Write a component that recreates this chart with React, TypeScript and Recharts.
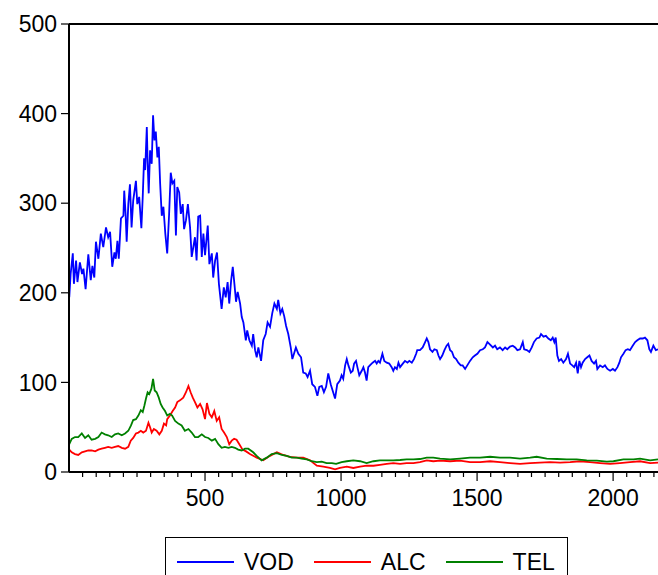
import React from "react";
import { LineChart, Line, XAxis, YAxis, ReferenceLine } from "recharts";

// Daily closing prices, indexed by observation number.
const vodObs = [
  1, 6, 14, 18, 26, 31, 40, 48, 53, 61,
  71, 80, 86, 93, 99, 108, 117, 126, 136, 144,
  151, 159, 167, 172, 178, 183, 191, 200, 203, 208,
  212, 218, 224, 230, 236, 246, 251, 258, 266, 271,
  276, 280, 286, 289, 293, 298, 304, 309, 314, 319,
  325, 330, 335, 341, 347, 354, 361, 368, 374, 380,
  387, 393, 398, 405, 411, 418, 423, 430, 437, 445,
  451, 457,
  463, 469, 475, 482, 488, 494, 500, 510, 516, 525,
  530, 537, 544, 551, 561, 569, 576, 583, 589, 596,
  602, 608, 614, 620, 629, 635, 641, 650, 655, 663,
  672, 677, 684, 690, 696, 706, 714, 723, 730, 739,
  747, 755, 764, 769, 777, 784, 791, 798, 806, 815,
  821, 827, 834, 843, 853, 861, 870, 877, 886, 894,
  904, 913, 920, 929, 937, 945, 953, 962, 969, 978,
  986, 996, 1002, 1008, 1015, 1021, 1027, 1036, 1043, 1048,
  1055, 1060, 1067, 1076, 1082, 1088, 1094, 1100, 1106, 1116,
  1125, 1131, 1137, 1143, 1152, 1159, 1168, 1177, 1186, 1192,
  1198, 1205, 1211, 1217, 1227, 1235, 1244, 1251, 1260, 1268,
  1276, 1280, 1290, 1300, 1309, 1315, 1321, 1327, 1336, 1343,
  1352, 1358, 1364, 1372, 1380, 1388, 1394, 1401, 1408, 1415,
  1423, 1431, 1440, 1447, 1456, 1464, 1474, 1484, 1492, 1501,
  1511, 1521, 1529, 1538, 1545,
  1558, 1566, 1574, 1584, 1594, 1603, 1611, 1621, 1631, 1640,
  1648, 1658, 1668, 1673, 1683, 1692, 1701, 1709, 1719, 1729,
  1735, 1744, 1753, 1762, 1771, 1778, 1784, 1789, 1795, 1801,
  1809, 1817, 1827, 1834, 1842, 1850, 1857, 1864, 1870, 1876,
  1882, 1888, 1897, 1905, 1913, 1921, 1930, 1937, 1942, 1952,
  1962, 1970, 1979, 1989, 1999, 2007, 2016, 2023, 2029, 2038,
  2046, 2054, 2062, 2072, 2081, 2089, 2099, 2109, 2117, 2126,
  2133, 2139, 2148, 2157, 2165,
];
const vodClose = [
  195, 221, 244, 210, 236, 212, 234, 221, 227, 204,
  243, 214, 230, 217, 257, 238, 266, 251, 273, 262,
  268, 229, 245, 238, 258, 238, 283, 286, 314, 288,
  257, 299, 321, 273, 303, 325, 299, 307, 272, 307,
  350, 337, 385, 346, 311, 359, 344, 398, 370, 380,
  351, 363, 322, 286, 296, 266, 244, 288, 334, 322,
  325, 264, 318, 312, 288, 299, 271, 281, 299, 273,
  240, 251,
  262, 236, 285, 286, 240, 266, 242, 275, 232, 244,
  217, 236, 245, 210, 182, 206, 195, 212, 188, 214,
  229, 210, 190, 201, 188, 173, 167, 147, 158, 147,
  141, 154, 136, 128, 139, 124, 147, 154, 167, 162,
  177, 188, 182, 192, 177, 182, 174, 163, 154, 139,
  126, 132, 139, 132, 128, 111, 110, 106, 113, 98,
  95, 85, 95, 96, 89, 95, 110, 98, 91, 82,
  98, 102, 108, 104, 119, 126, 119, 111, 113, 121,
  124, 117, 108, 113, 117, 111, 102, 117, 119, 122,
  124, 121, 124, 122, 132, 124, 122, 121, 117, 113,
  117, 115, 122, 117, 121, 124, 122, 124, 122, 126,
  132, 136, 136, 139, 145, 149, 145, 137, 134, 137,
  136, 130, 126, 130, 136, 141, 143, 136, 134, 128,
  126, 122, 119, 119, 115, 119, 124, 128, 130, 132,
  136, 137, 139, 145, 143,
  139, 141, 137, 139, 136, 139, 137, 140, 141, 139,
  136, 137, 145, 137, 136, 134, 139, 145, 149, 150,
  154, 151, 152, 149, 147, 150, 145, 150, 130, 124,
  126, 122, 126, 132, 121, 119, 117, 122, 110, 124,
  117, 122, 126, 128, 130, 124, 121, 124, 115, 119,
  117, 119, 115, 113, 115, 113, 117, 122, 128, 132,
  136, 137, 136, 141, 145, 147, 149, 149, 150, 147,
  137, 134, 141, 136, 137,
];

const alcObs = [
  1, 10, 22, 34, 47, 59, 71, 83, 96, 108,
  120, 132, 144, 157, 169, 181, 194, 206, 218, 227,
  236, 246, 255, 264, 273, 283, 292, 298, 304, 312,
  322, 332, 341, 349, 357, 361, 371, 381, 390, 398,
  408, 420, 430, 439, 447, 455, 463, 472, 482, 491,
  500, 507, 516, 525, 534, 543, 552, 561, 570, 580,
  589, 598, 607, 616, 626, 638, 651, 665, 690, 714,
  739, 764, 788, 812, 837, 861, 886, 911, 935, 959,
  978, 996, 1021, 1045, 1070, 1094, 1119, 1143, 1168, 1192,
  1217, 1241, 1266, 1290, 1315, 1339, 1364, 1401, 1437, 1474,
  1511, 1548, 1584, 1621, 1658, 1695, 1731, 1768, 1805, 1842,
  1878, 1915, 1952, 1989, 2025, 2062, 2099, 2136, 2165,
];
const alcClose = [
  25, 22, 20, 19, 22, 23, 24, 24, 23, 25,
  26, 27, 28, 27, 28, 29, 27, 26, 28, 35,
  38, 43, 44, 46, 44, 46, 55, 50, 44, 48,
  46, 42, 46, 54, 52, 59, 63, 68, 72, 78,
  80, 83, 89, 96, 89, 83, 78, 72, 76, 70,
  59, 77, 65, 61, 68, 57, 61, 48, 44, 39,
  31, 35, 37, 36, 31, 25, 23, 20, 16, 13,
  18, 22, 19, 17, 16, 16, 13, 7, 6, 4.5,
  3, 4.5, 6, 4.5, 6, 7, 7, 8, 9, 10,
  9, 10, 10, 11, 13, 12, 12.6, 12, 12.6, 11,
  11, 12, 11, 10, 9, 10, 10.4, 11, 10.4, 11,
  12, 11, 10, 9, 10, 11, 12, 10, 10.4,
];

const telObs = [
  1, 10, 22, 34, 47, 59, 71, 83, 96, 108,
  120, 132, 144, 157, 169, 181, 194, 206, 218, 228,
  236, 246, 255, 264, 271, 277, 283, 289, 295, 303,
  309, 315, 322, 330, 337, 344, 353, 361, 371, 379,
  390, 402, 414, 426, 439, 451, 463, 475, 488, 500,
  512, 525, 537, 549, 561, 573, 586, 598, 610, 622,
  635, 647, 659, 677, 690, 708, 727, 745, 764, 782,
  800, 819, 837, 855, 874, 892, 911, 929, 947, 966,
  982, 1002, 1021, 1045, 1070, 1094, 1119, 1143, 1168, 1192,
  1217, 1241, 1266, 1290, 1315, 1339, 1364, 1401, 1437, 1474,
  1511, 1548, 1584, 1621, 1658, 1695, 1719, 1756, 1793, 1830,
  1866, 1903, 1940, 1977, 2001, 2038, 2075, 2099, 2136, 2165,
];
const telClose = [
  31, 37, 39, 39, 43, 38, 41, 36, 37, 39,
  44, 42, 41, 39, 42, 43, 41, 43, 46, 52,
  58, 59, 63, 69, 67, 74, 82, 89, 87, 93,
  104, 91, 89, 83, 76, 72, 68, 63, 65, 63,
  57, 54, 52, 46, 48, 44, 39, 39, 42, 39,
  38, 35, 37, 31, 27, 28, 27, 28, 27, 25,
  24, 26, 26, 22, 18, 13, 16, 20, 21, 19,
  18, 16, 16, 15, 14, 12, 11, 11.5, 10, 10,
  9, 11, 12, 13, 12, 10, 12, 13, 13, 13,
  13.4, 14, 14, 14.5, 16, 16, 15, 14, 15, 16,
  16, 17, 16, 16, 15, 16, 17, 15, 14.5, 14,
  14, 13, 12.6, 11.5, 12, 14, 14, 15, 13, 14,
];

const yTicks = [0, 100, 200, 300, 400, 500];
const xLabelTicks = [500, 1000, 1500, 2000];

const series = [
  { key: "VOD", color: "#0000ff", obs: vodObs, close: vodClose },
  { key: "ALC", color: "#ff0000", obs: alcObs, close: alcClose },
  { key: "TEL", color: "#008000", obs: telObs, close: telClose },
];

const X_MAX = 2165;
const minorStep = 50;
const xTicks: number[] = [];
for (let t = minorStep; t <= X_MAX; t += minorStep) xTicks.push(t);

const font = '"Liberation Sans", Arial, sans-serif';

function ObsTick(props: any) {
  const { x, y, payload } = props;
  const v = payload.value as number;
  const major = xLabelTicks.includes(v);
  return (
    <g>
      <line x1={x} x2={x} y1={y} y2={y + (major ? 9 : 5)} stroke="#000" strokeWidth={1.2} />
      {major ? (
        <text x={x} y={y + 34} textAnchor="middle" fontSize={23} fill="#000" fontFamily={font}>
          {v}
        </text>
      ) : null}
    </g>
  );
}

function LegendBox() {
  return (
    <div
      style={{
        position: "absolute",
        left: 165,
        top: 537,
        width: 403,
        height: 50,
        border: "1px solid #000",
        display: "flex",
        alignItems: "center",
        paddingLeft: 11,
        boxSizing: "border-box",
        fontFamily: font,
        fontSize: 23,
        color: "#000",
      }}
    >
      {series.map((s) => (
        <div key={s.key} style={{ display: "flex", alignItems: "center", marginRight: 20 }}>
          <div style={{ width: 57, height: 2, background: s.color, marginRight: 10 }} />
          <span>{s.key}</span>
        </div>
      ))}
    </div>
  );
}

export default function App() {
  const seriesData = series.map((s) => ({
    ...s,
    rows: s.obs.map((t, i) => ({ obs: t, [s.key]: s.close[i] })),
  }));

  return (
    <div
      style={{
        position: "absolute",
        left: 0,
        top: 0,
        width: 658,
        height: 575,
        overflow: "hidden",
        background: "#fff",
        fontFamily: font,
      }}
    >
      <LineChart width={658} height={575} margin={{ top: 24, right: 0, left: 8, bottom: 73 }}>
        <XAxis
          type="number"
          dataKey="obs"
          domain={[0, X_MAX]}
          ticks={xTicks}
          interval={0}
          allowDataOverflow
          height={30}
          tickLine={false}
          tickSize={0}
          tickMargin={0}
          tick={<ObsTick />}
          axisLine={{ stroke: "#000", strokeWidth: 2 }}
        />
        <YAxis
          type="number"
          domain={[0, 500]}
          ticks={yTicks}
          interval={0}
          width={61}
          tickSize={8}
          tickMargin={4}
          tick={{ fill: "#000", fontSize: 23, fontFamily: font }}
          tickLine={{ stroke: "#000", strokeWidth: 1.2 }}
          axisLine={{ stroke: "#000", strokeWidth: 2 }}
        />
        <ReferenceLine y={500} stroke="#000" strokeWidth={2} />
        {seriesData.map((s) => (
          <Line
            key={s.key}
            data={s.rows}
            dataKey={s.key}
            type="linear"
            stroke={s.color}
            strokeWidth={1.8}
            dot={false}
            activeDot={false}
            isAnimationActive={false}
          />
        ))}
      </LineChart>
      <LegendBox />
    </div>
  );
}
